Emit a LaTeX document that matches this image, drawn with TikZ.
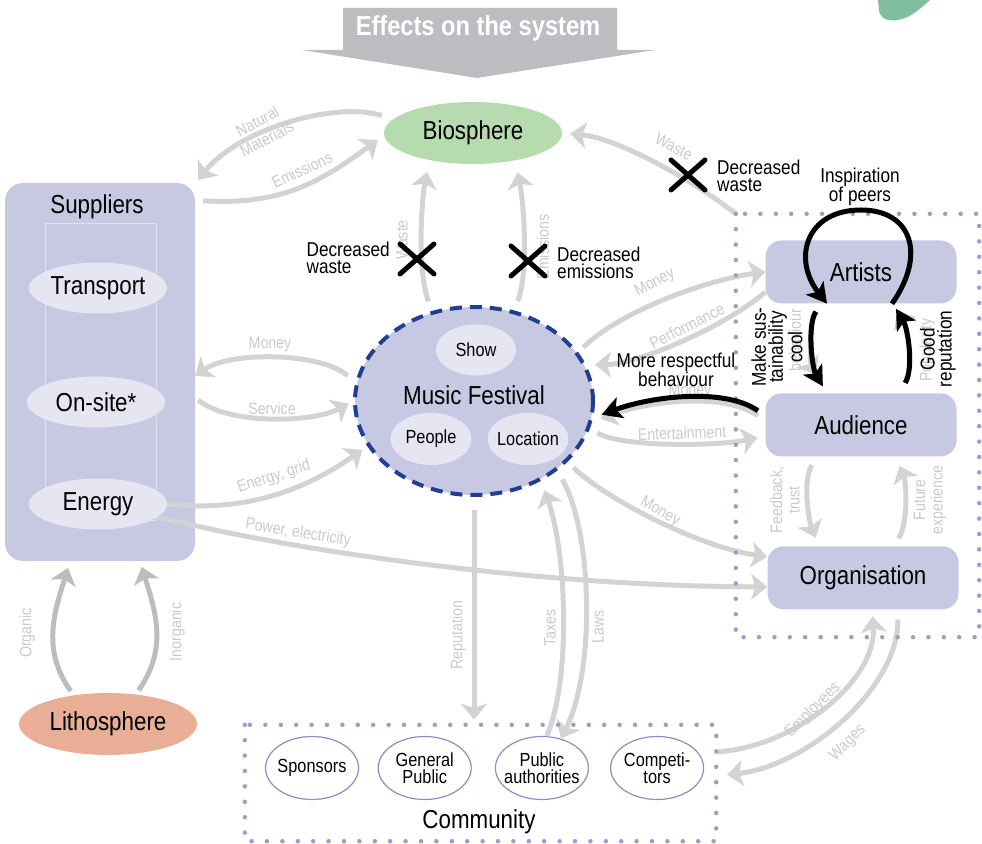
\documentclass[tikz,border=0pt]{standalone}
\usepackage{fontspec}
\setmainfont{Liberation Sans}[FakeStretch=0.86]
\usepackage{tikz}
\usetikzlibrary{positioning}
\usetikzlibrary{shapes.geometric}
\usetikzlibrary{arrows.meta}

\definecolor{boxfill}{HTML}{C7C8E2}
\definecolor{partfill}{HTML}{E6E6F2}
\definecolor{festline}{HTML}{233E91}
\definecolor{biofill}{HTML}{B5DBAE}
\definecolor{lithofill}{HTML}{E8AF96}
\definecolor{flowgray}{HTML}{D3D3D3}
\definecolor{rockgray}{HTML}{BCBDC0}
\definecolor{lblgray}{HTML}{CACACA}
\definecolor{dotblue}{HTML}{9C9CCD}
\definecolor{memberline}{HTML}{8C8CCB}
\definecolor{headgray}{HTML}{BCBDC0}
\definecolor{blobgreen}{HTML}{7FBF9F}

\tikzset{
  block/.style={rectangle, rounded corners=16pt, fill=boxfill, minimum width=191pt,
    minimum height=63pt, font=\fontsize{26}{26}\selectfont},
  sphere/.style={ellipse, inner sep=0pt, minimum width=178pt, minimum height=62pt,
    font=\fontsize{26}{26}\selectfont},
  part/.style={ellipse, fill=partfill, inner xsep=-4pt, inner ysep=0pt},
  member/.style={ellipse, draw=memberline, line width=1.2pt, fill=white, inner xsep=-5pt,
    inner ysep=0pt, minimum width=93pt, minimum height=63pt, align=center,
    font=\fontsize{19}{17}\selectfont},
  flow/.style={draw=flowgray, line width=5pt, -{Stealth[length=16pt, width=26pt, inset=4pt]}},
  flowlbl/.style={text=lblgray, inner sep=0pt, align=center, font=\fontsize{16.5}{17.5}\selectfont},
  effect/.style={draw=black, line width=5pt, -{Stealth[length=20pt, width=22pt, inset=5pt]}},
  note/.style={inner sep=0pt, font=\fontsize{20}{17}\selectfont},
  cross/.style={draw=black, line width=5pt, line cap=round},
  dotframe/.style={draw=dotblue, line width=4.5pt, line cap=round, dash pattern=on 0pt off 15.4pt},
}

\begin{document}
\begin{tikzpicture}[x=1pt, y=1pt]
\useasboundingbox (0,0) rectangle (982,843);

% banner on top
\fill[headgray] (343,835) -- (617,835) -- (617,793) -- (655,793) -- (477,765) -- (302,793)
  -- (343,793) -- cycle;
\node[font=\bfseries\fontsize{27.5}{27.5}\selectfont, text=white] (effects) at (478,815)
  {Effects on the system};
\fill[blobgreen] (878,843) -- (879,832) .. controls (881,822) and (893,821) .. (902,824)
  .. controls (910,826) and (918,832) .. (930,843) -- cycle;

% suppliers
\node[block, rounded corners=18pt, minimum width=190pt, minimum height=378pt] (sup) at (100,471) {};
\node[font=\fontsize{26}{26}\selectfont] (suptitle) at (97,636) {Suppliers};
\draw[boxfill!55!white, line width=0.6pt] (45,620) rectangle (156,323);
\node[part, minimum width=138pt, minimum height=51pt, font=\fontsize{26}{26}\selectfont]
  (transport) at (98,555) {Transport};
\node[part, minimum width=138pt, minimum height=51pt, font=\fontsize{26}{26}\selectfont]
  (onsite) at (96,441) {On-site*};
\node[part, minimum width=138pt, minimum height=51pt, font=\fontsize{26}{26}\selectfont]
  (energy) at (98,339) {Energy};

\node[sphere, fill=biofill] (bio) at (473,710) {Biosphere};
\node[sphere, fill=lithofill] (litho) at (108,119) {Lithosphere};

% the festival
\node[ellipse, fill=boxfill, draw=festline, line width=4pt, dash pattern=on 12pt off 8pt,
  minimum width=238pt, minimum height=188pt, inner sep=0pt] (fest) at (474,442) {};
\node[font=\fontsize{26}{26}\selectfont] (festname) at (474,448) {Music Festival};
\node[part, minimum width=80pt, minimum height=51pt, font=\fontsize{19}{19}\selectfont]
  (show) at (476,493) {Show};
\node[part, minimum width=81pt, minimum height=52pt, font=\fontsize{19}{19}\selectfont]
  (people) at (431,404) {People};
\node[part, minimum width=81pt, minimum height=52pt, font=\fontsize{19}{19}\selectfont]
  (location) at (528,404) {Location};

% actors
\node[block] (art) at (861,571) {Artists};
\node[block, below=89.5pt of art] (aud) {Audience};
\node[block, below=89.5pt of aud, xshift=2pt] (org) {Organisation};
\node[minimum width=243pt, minimum height=423pt] (core) at (857.5,417.5) {};

% community
\node[minimum width=471pt, minimum height=116pt] (comm) at (480.5,60) {};
\node[font=\fontsize{26}{26}\selectfont] (commname) at (479,21) {Community};
\node[member] (sponsors) at (312,75) {Sponsors};
\node[member, right=18.5pt of sponsors] (public) {General\\Public};
\node[member, right=23pt of public] (authority) {Public\\authorities};
\node[member, right=21pt of authority] (rivals) {Competi-\\tors};

% flows with the biosphere
\draw[flow, shorten <=12pt] (bio.170) .. controls +(-60,18) and +(40,50) .. ([shift={(3,3)}]sup.north east);
\node[flowlbl, rotate=28, font=\fontsize{16.5}{20}\selectfont] (lnat) at (262,713) {Natural\\Materials};
\draw[flow] ([shift={(8,-18)}]sup.north east) .. controls +(80,-5) and +(-55,-40) .. ([shift={(-6,-7)}]bio.west);
\node[flowlbl, rotate=25] (lemi) at (302,673) {Emissions};
\draw[flow, shorten <=10pt, shorten >=12pt] (fest.115) .. controls +(-15,40) and +(-8,-40) .. (bio.212);
\node[flowlbl, rotate=90] (lwaste) at (402,603) {Waste};
\draw[flow, shorten <=10pt, shorten >=12pt] (fest.66) .. controls +(15,40) and +(8,-40) .. (bio.327);
\node[flowlbl, rotate=90] (lemis) at (543,596) {Emissions};
\draw[flow, shorten >=8pt] (core.north west) .. controls +(-45,35) and +(55,-5) .. (bio.east);
\node[flowlbl, rotate=-28] (lwaste2) at (674,696) {Waste};

% flows with the suppliers
\draw[flow, shorten <=10pt] (fest.171) .. controls +(-35,30) and +(35,25) .. ([yshift=-4]sup.east);
\node[flowlbl] (lmoney1) at (270,498) {Money};
\draw[flow, shorten >=5pt] ([shift={(3,-28)}]sup.east) .. controls +(30,-25) and +(-40,-22) .. (fest.west);
\node[flowlbl] (lservice) at (272,434) {Service};
\draw[flow, shorten >=6pt] (energy.east) .. controls +(90,-10) and +(-50,-35) .. (fest.203);
\node[flowlbl, rotate=18] (lgrid) at (274,366) {Energy, grid};
\draw[flow] (energy.-12) .. controls +(140,-36) and +(-215,0) .. ([yshift=-9]org.west);
\node[flowlbl, rotate=-9] (lpower) at (298,310) {Power, electricity};
\draw[flow, draw=rockgray, shorten <=5pt, shorten >=7pt] (litho.140) .. controls +(-32,45) and +(-16,-52) .. ([xshift=-30]sup.south);
\node[flowlbl, rotate=90] (lorg) at (27,210) {Organic};
\draw[flow, draw=rockgray, shorten <=5pt, shorten >=6pt] (litho.47) .. controls +(32,45) and +(16,-52) .. ([xshift=40]sup.south);
\node[flowlbl, rotate=90] (linorg) at (177,211) {Inorganic};

% flows with the actors
\draw[flow, shorten <=7pt] (fest.25) .. controls +(40,40) and +(-60,-8) .. (art.west);
\node[flowlbl, rotate=28] (lmoney2) at (655,560) {Money};
\draw[flow, shorten >=9pt] ([yshift=-20]art.west) .. controls +(-40,-35) and +(50,0) .. (fest.18);
\node[flowlbl, rotate=27] (lperf) at (687,517) {Performance};
\draw[flow, shorten <=9pt, shorten >=9pt] ([yshift=4]aud.west) .. controls +(-40,28) and +(60,22) .. (fest.-10);
\node[flowlbl] (lmoney3) at (690,451) {Money};
\draw[flow, shorten <=9pt, shorten >=8pt] (fest.-13) .. controls +(30,-20) and +(-45,-10) .. ([yshift=-11]aud.west);
\node[flowlbl, rotate=2] (lent) at (682,410) {Entertainment};
\draw[flow, shorten <=8pt] (fest.-33) .. controls +(35,-35) and +(-70,10) .. ([yshift=21]org.west);
\node[flowlbl, rotate=-30] (lmoney4) at (660,331) {Money};
\draw[flow, shorten <=10pt, shorten >=22pt] ([xshift=-39]art.south) .. controls +(-15,-20) and +(-15,25) .. ([xshift=-34]aud.north);
\node[flowlbl, rotate=90] (lbeh) at (795,503) {behaviour};
\draw[flow, shorten <=12pt, shorten >=8pt] ([xshift=38]aud.north) .. controls +(15,25) and +(15,-25) .. ([xshift=32]art.south);
\node[flowlbl, rotate=90] (lpop) at (927,493) {Popularity};
\draw[flow, shorten <=10pt, shorten >=9pt] ([xshift=-44]aud.south) .. controls +(-15,-25) and +(-10,25) .. ([xshift=-44]org.north);
\node[flowlbl, rotate=90] (lfeed) at (785,343) {Feedback,\\trust};
\draw[flow, shorten <=9pt, shorten >=10pt] ([xshift=31]org.north) .. controls +(15,25) and +(10,-25) .. ([xshift=35]aud.south);
\node[flowlbl, rotate=90] (lfut) at (930,343) {Future\\experience};

% flows with the community
\draw[flow, shorten >=7pt] ([yshift=31]comm.east) .. controls +(80,5) and +(5,-70) .. ([xshift=9]org.south);
\node[flowlbl, rotate=45] (lemp) at (813,133) {Employees};
\draw[flow, shorten <=10pt, shorten >=11pt] ([xshift=35]org.south) .. controls +(0,-80) and +(90,10) .. ([yshift=7]comm.east);
\node[flowlbl, rotate=45] (lwage) at (848,100) {Wages};
\draw[flow, shorten <=13pt, shorten >=5pt] (fest.south) -- (fest.south |- comm.north);
\node[flowlbl, rotate=90] (lrep) at (458,208) {Reputation};
\draw[flow, shorten >=10pt] ([xshift=5]authority.north) .. controls +(25,60) and +(25,-70) .. (fest.-50);
\node[flowlbl, rotate=90] (ltax) at (550,215) {Taxes};
\draw[flow, shorten <=10pt] (fest.-40) .. controls +(35,-60) and +(35,70) .. (authority.57);
\node[flowlbl, rotate=90] (llaw) at (598,216) {Laws};

% dotted frames
\draw[dotframe] (core.north west) rectangle (core.south east);
\draw[dotframe] (comm.north west) rectangle (comm.south east);

% effects of the festival
\draw[effect] ([xshift=31]art.south) .. controls +(35,50) and +(50,0) .. ([yshift=62]art.center)
  .. controls +(-55,0) and +(-35,45) .. ([xshift=-34]art.south);
\node[note, align=center] (linsp) at (860,656) {Inspiration\\of peers};
\draw[effect, shorten <=10pt, shorten >=8pt] ([xshift=-39]art.south) .. controls +(-15,-20) and +(-15,25) .. ([xshift=-34]aud.north);
\node[note, align=center, rotate=90] (lcool) at (777,496) {Make sus-\\tainability\\cool};
\draw[effect, shorten <=12pt, shorten >=6pt] ([xshift=38]aud.north) .. controls +(15,25) and +(15,-25) .. ([xshift=32]art.south);
\node[note, align=center, rotate=90] (lgood) at (938,494) {Good\\reputation};
\draw[effect, shorten <=9pt, shorten >=9pt] ([yshift=9]aud.west) .. controls +(-40,28) and +(60,22) .. (fest.-8);
\node[note, align=center] (lresp) at (676,473) {More respectful\\behaviour};

\coordinate (xwaste) at (417,584);
\coordinate (xemis) at (528,582);
\coordinate (xtop) at (688,668);
\foreach \c in {xwaste,xemis,xtop}
  \draw[cross] ([shift={(-17,-15)}]\c) -- ([shift={(17,15)}]\c)
    ([shift={(-17,15)}]\c) -- ([shift={(17,-15)}]\c);
\node[note, align=left, anchor=east] (ldw1) at (390,585) {Decreased\\waste};
\node[note, align=left, anchor=west] (lde) at (557,580) {Decreased\\emissions};
\node[note, align=left, anchor=west] (ldw2) at (717,667) {Decreased\\waste};
\end{tikzpicture}
\end{document}
